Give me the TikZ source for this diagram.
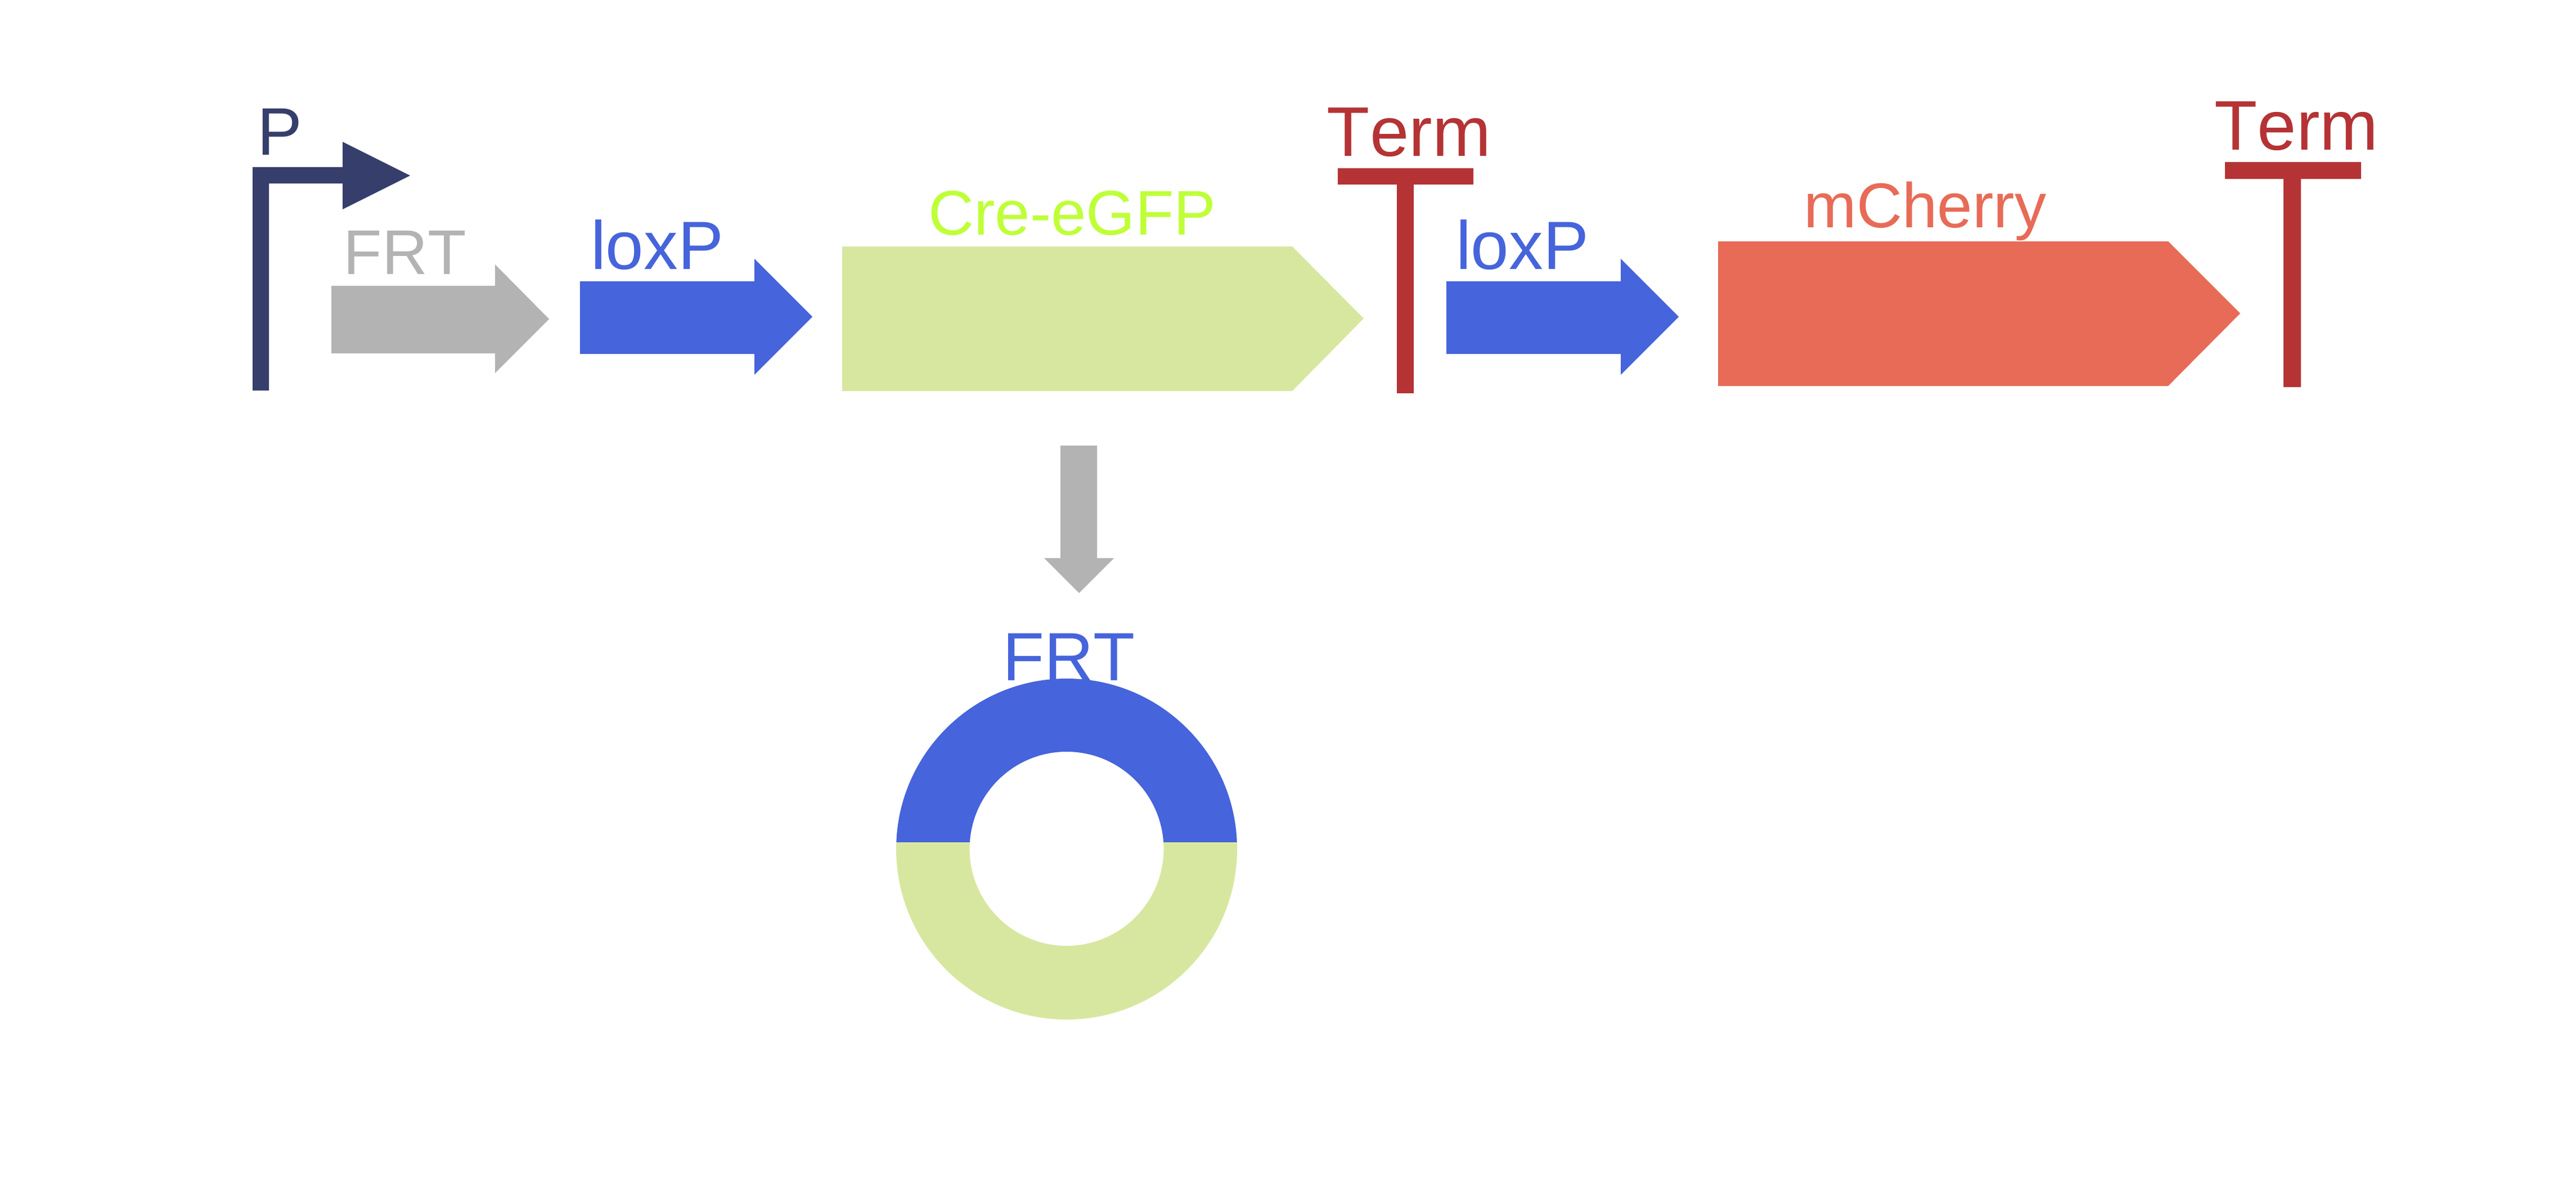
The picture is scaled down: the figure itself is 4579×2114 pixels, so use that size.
\documentclass[tikz,border=0pt]{standalone}
\usepackage{fontspec}
\setmainfont[Kerning=Off]{Liberation Sans}
\definecolor{navy}{HTML}{363F6B}
\definecolor{midgray}{HTML}{B3B3B3}
\definecolor{royal}{HTML}{4664DB}
\definecolor{palegreen}{HTML}{D8E7A0}
\definecolor{lime}{HTML}{BFFF38}
\definecolor{salmon}{HTML}{E86B57}
\definecolor{termred}{HTML}{B53335}
\tikzset{
  lbl/.style={anchor=base, inner sep=0pt, outer sep=0pt}
}
\begin{document}
\begin{tikzpicture}[x=0.01cm,y=-0.01cm]
\useasboundingbox (0,0) rectangle (4579,2114);
\fill[white] (0,0) rectangle (4579,2114);
% promoter
\fill[navy] (449,694) -- (449,297) -- (609,297) -- (609,252) -- (729,312) -- (609,372) -- (609,326) -- (478,326) -- (478,694) -- cycle;
\node[lbl, text=navy, font=\fontsize{34}{36}\selectfont] (labelP) at (497,275) {P};
% FRT
\fill[midgray] (589,508) -- (880,508) -- (880,470) -- (976,567) -- (880,663) -- (880,628) -- (589,628) -- cycle;
\node[lbl, text=midgray, font=\fontsize{31.9}{34}\selectfont] (labelFRTa) at (720,487) {FRT};
% loxP 1
\fill[royal] (1031,500) -- (1341,500) -- (1341,460) -- (1444,563) -- (1341,666) -- (1341,629) -- (1031,629) -- cycle;
\node[lbl, text=royal, font=\fontsize{34.5}{36}\selectfont] (labelLoxa) at (1168,478) {loxP};
% Cre-eGFP
\fill[palegreen] (1497,438) -- (2297,438) -- (2424,566) -- (2297,695) -- (1497,695) -- cycle;
\node[lbl, text=lime, font=\fontsize{31.9}{34}\selectfont] (labelCre) at (1906,417) {Cre-eGFP};
% Term 1
\fill[termred] (2378,299) rectangle (2619,328);
\fill[termred] (2483,328) rectangle (2513,699);
\node[lbl, text=termred, font=\fontsize{35.5}{37}\selectfont] (labelTerma) at (2504.5,277) {Term};
% loxP 2
\fill[royal] (2571,500) -- (2881,500) -- (2881,460) -- (2984,563) -- (2881,666) -- (2881,629) -- (2571,629) -- cycle;
\node[lbl, text=royal, font=\fontsize{34.5}{36}\selectfont] (labelLoxb) at (2706,478) {loxP};
% mCherry
\fill[salmon] (3054,429) -- (3854,429) -- (3982,557) -- (3854,686) -- (3054,686) -- cycle;
\node[lbl, text=salmon, font=\fontsize{32}{34}\selectfont] (labelCherry) at (3422,404) {mCherry};
% Term 2
\fill[termred] (3955,288) rectangle (4197,318);
\fill[termred] (4059,318) rectangle (4090,688);
\node[lbl, text=termred, font=\fontsize{35.5}{37}\selectfont] (labelTermb) at (4082,266) {Term};
% down arrow
\fill[midgray] (1885,792) -- (1950,792) -- (1950,992) -- (1980,992) -- (1918,1054) -- (1856,992) -- (1885,992) -- cycle;
% FRT ring
\node[lbl, text=royal, font=\fontsize{34.5}{36}\selectfont] (labelFRTb) at (1900,1209) {FRT};
\begin{scope}
\clip (1500,1100) rectangle (2300,1497);
\fill[royal, even odd rule] (1896,1509) circle (303) (1896,1508.5) circle (172.5);
\end{scope}
\begin{scope}
\clip (1500,1497) rectangle (2300,1900);
\fill[palegreen, even odd rule] (1896,1509) circle (303) (1896,1508.5) circle (172.5);
\end{scope}
\end{tikzpicture}
\end{document}
